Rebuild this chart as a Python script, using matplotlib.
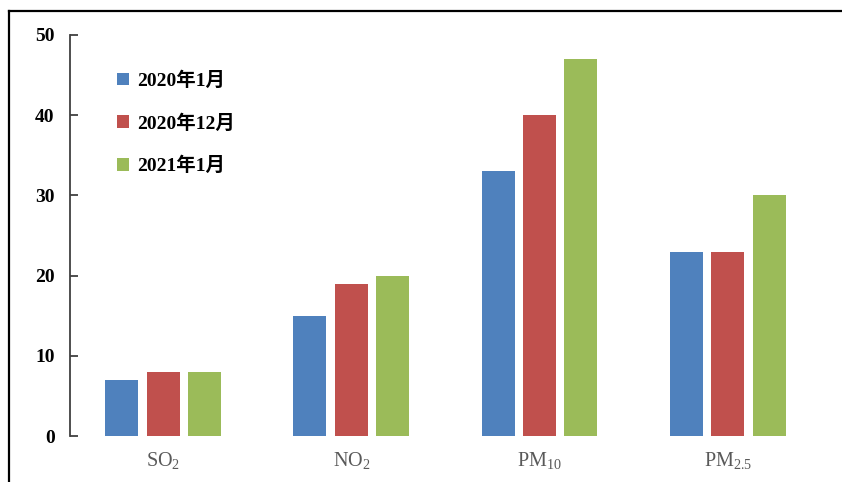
import numpy as np
import matplotlib
matplotlib.use("Agg")
import matplotlib.pyplot as plt
from matplotlib.lines import Line2D

plt.rcParams['font.family'] = ['Liberation Serif', 'Noto Sans CJK SC']
plt.rcParams['mathtext.fontset'] = 'custom'
plt.rcParams['mathtext.rm'] = 'Liberation Serif'
plt.rcParams['mathtext.it'] = 'Liberation Serif'

categories = ['SO$_\\mathrm{2}$', 'NO$_\\mathrm{2}$', 'PM$_\\mathrm{10}$', 'PM$_\\mathrm{2.5}$']
series = ['2020年1月', '2020年12月', '2021年1月']
jan2020 = [7, 15, 33, 23]
dec2020 = [8, 19, 40, 23]
jan2021 = [8, 20, 47, 30]
colors = ['#4F81BD', '#C0504D', '#9BBB59']
yticks = [0, 10, 20, 30, 40, 50]

fig = plt.figure(figsize=(8.42, 4.82), dpi=100)
ax = fig.add_axes([0.0831, 0.0954, 0.893, 0.832])

x = np.arange(len(categories))
step = 0.22
width = 0.175
for i, (vals, name) in enumerate(zip([jan2020, dec2020, jan2021], series)):
    ax.bar(x + (i - 1) * step, vals, width, color=colors[i], label=name)

ax.set_xlim(-0.495, 3.5)
ax.set_ylim(0, 50)
ax.set_yticks(yticks)
ax.set_xticks(x)
ax.set_xticklabels(categories, fontsize=14.5, color='#595959')
for s in ['top', 'right', 'bottom']:
    ax.spines[s].set_visible(False)
ax.spines['left'].set_color('#404040')
ax.spines['left'].set_linewidth(1.3)
ax.tick_params(axis='y', direction='in', length=6, width=1.3, color='#404040',
               pad=11, labelsize=14)
ax.tick_params(axis='x', length=0, pad=10)
for t in ax.get_yticklabels():
    t.set_fontweight('bold')

leg = ax.legend(loc='upper left', bbox_to_anchor=(0.039, 0.953), frameon=False,
                prop={'weight': 'bold', 'size': 14}, handlelength=0.62,
                handleheight=0.62, handletextpad=0.45, labelspacing=1.25)

# outer frame (top and left edges)
fig.add_artist(Line2D([9 / 842, 1], [1 - 10.5 / 482, 1 - 10.5 / 482],
                      transform=fig.transFigure, color='black', lw=1.6))
fig.add_artist(Line2D([9 / 842, 9 / 842], [0, 1 - 10.5 / 482],
                      transform=fig.transFigure, color='black', lw=1.6))

fig.savefig('out.png', dpi=100)
